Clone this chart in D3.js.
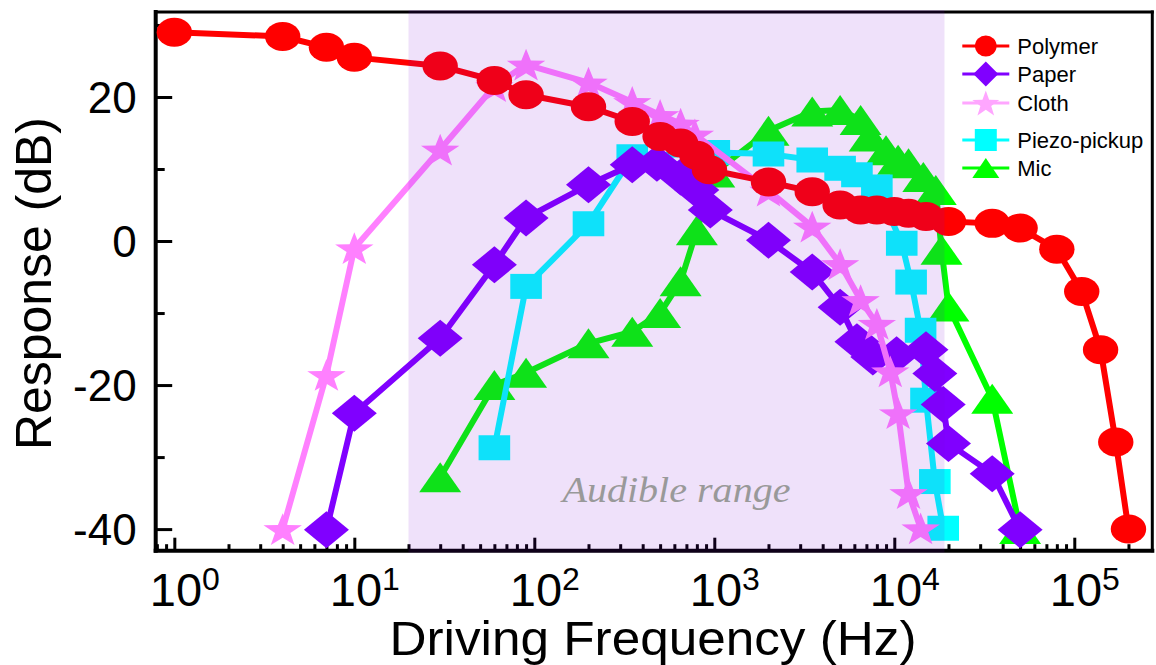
<!DOCTYPE html>
<html>
<head>
<meta charset="utf-8">
<script src="https://cdn.jsdelivr.net/npm/d3@7"></script>
<style>
  html, body { margin: 0; padding: 0; background: #fff; }
  svg { display: block; }
</style>
</head>
<body>
<svg id="chart" width="1156" height="665"></svg>
<script>
// ---- Measured frequency responses (Hz, dB) ----
const polymerFreq = [1, 4, 7, 10, 30, 60, 90, 200, 350, 500, 650, 800, 940, 2000, 3500, 5000, 6500, 8000, 10000, 12000, 15000, 20000, 35000, 50000, 80000, 110000, 140000, 170000, 200000];
const polymerResp = [29.0, 28.4, 26.9, 25.5, 24.3, 22.3, 20.3, 18.65, 16.6, 14.5, 13.6, 11.9, 9.9, 8.2, 6.85, 5.0, 4.3, 4.3, 4.1, 3.85, 3.4, 2.7, 2.45, 1.8, -1.15, -7.0, -15.1, -27.9, -40.0];

const paperFreq = [7, 10, 30, 60, 90, 200, 350, 480, 650, 800, 950, 2000, 3500, 5000, 6200, 7600, 10300, 15000, 16800, 18700, 20000, 35000, 50000];
const paperResp = [-40.1, -23.9, -13.5, -3.3, 3.2, 7.8, 10.6, 10.8, 8.9, 7.1, 4.3, 0.1, -4.3, -9.2, -14.0, -16.1, -15.8, -15.1, -18.4, -22.7, -28.1, -32.3, -40.1];

const clothFreq = [4, 7, 10, 30, 60, 90, 200, 350, 500, 650, 780, 2000, 3500, 5000, 6500, 8000, 9500, 10500, 12000, 14000];
const clothResp = [-40.0, -18.6, -1.0, 12.7, 21.5, 24.5, 22.0, 19.3, 17.5, 16.3, 14.8, 7.0, 2.0, -3.2, -8.2, -11.5, -18.1, -23.9, -35.0, -39.9];

const piezoFreq = [60, 90, 200, 350, 1000, 2000, 3500, 5000, 6200, 8000, 11000, 12400, 14000, 15000, 16800, 18700];
const piezoResp = [-28.7, -6.3, 2.4, 11.7, 12.3, 12.1, 11.25, 10.1, 9.2, 7.5, -0.3, -5.7, -12.4, -22.1, -33.4, -39.9];

const micFreq = [30, 60, 90, 200, 350, 500, 650, 800, 1000, 2000, 3500, 5000, 6500, 7300, 9000, 10500, 12000, 14500, 17000, 18300, 20000, 35000, 50000];
const micResp = [-32.8, -20.0, -18.3, -14.2, -12.6, -10.0, -5.6, 1.5, 9.5, 15.3, 18.0, 18.2, 16.8, 14.5, 12.6, 11.3, 10.8, 8.9, 7.1, -1.2, -9.1, -21.9, -40.0];

// ---- Axis ticks and annotation ----
const xMajorTicks = [1, 10, 100, 1000, 10000, 100000];
const yMajorTicks = [-40, -20, 0, 20];
const yMinorTicks = [-30, -10, 10, 30];
const audibleBand = [20, 19000];
const bandLabel = "Audible range";
const xTitle = "Driving Frequency (Hz)";
const yTitle = "Response (dB)";

// Series, in drawing order (bottom to top); legend order is separate
const series = [
  { name: "Mic",          freq: micFreq,     resp: micResp,     color: "#00ff00", legendColor: "#00ff00", shape: "triangle" },
  { name: "Piezo-pickup", freq: piezoFreq,   resp: piezoResp,   color: "#00ffff", legendColor: "#00ffff", shape: "square" },
  { name: "Paper",        freq: paperFreq,   resp: paperResp,   color: "#8000ff", legendColor: "#8000ff", shape: "diamond" },
  { name: "Cloth",        freq: clothFreq,   resp: clothResp,   color: "#ff80ff", legendColor: "#ffa6ff", shape: "star" },
  { name: "Polymer",      freq: polymerFreq, resp: polymerResp, color: "#ff0000", legendColor: "#ff0000", shape: "circle" }
];
const legendOrder = ["Polymer", "Paper", "Cloth", "Piezo-pickup", "Mic"];

// ---- Layout ----
const W = 1156, H = 665;
const M = { left: 155.7, right: 1152.3, top: 12, bottom: 550.7 };
const FONT = "'Liberation Sans', Arial, Helvetica, sans-serif";

const svg = d3.select("#chart");

const x = d3.scaleLog().domain([0.788, 271300]).range([M.left, M.right]);
const y = d3.scaleLinear().domain([-43, 31.8]).range([M.bottom, M.top]);

// Marker outlines centred on their bounding box; a = half width, b = half height
function markerPath(shape, a, b) {
  if (shape === "circle") {
    return `M${-a},0A${a},${b} 0 1,0 ${a},0A${a},${b} 0 1,0 ${-a},0Z`;
  }
  if (shape === "diamond") {
    return `M0,${-b}L${a},0L0,${b}L${-a},0Z`;
  }
  if (shape === "square") {
    return `M${-a},${-b}L${a},${-b}L${a},${b}L${-a},${b}Z`;
  }
  if (shape === "triangle") {
    return `M0,${-b}L${a},${b}L${-a},${b}Z`;
  }
  // five-pointed star, stretched to the box
  const rx = a / Math.cos(Math.PI / 10);
  const ry = 2 * b / (1 + Math.cos(Math.PI / 5));
  const dy = ry - b;
  const inner = 0.4;
  const pts = [];
  for (let i = 0; i < 10; i++) {
    const ang = -Math.PI / 2 + i * Math.PI / 5;
    const r = i % 2 === 0 ? 1 : inner;
    pts.push([rx * r * Math.cos(ang), ry * r * Math.sin(ang) + dy]);
  }
  return "M" + pts.map(p => p[0].toFixed(2) + "," + p[1].toFixed(2)).join("L") + "Z";
}

const markerSize = {
  circle:   [17.7, 14.5],
  diamond:  [22.5, 18.5],
  square:   [15.8, 12.5],
  triangle: [21, 15],
  star:     [19.2, 15.9]
};
const legendMarkerSize = {
  circle:   [10.8, 10.5],
  diamond:  [12.5, 12.5],
  square:   [11, 11],
  triangle: [13.5, 10],
  star:     [13.5, 12.5]
};

// ---- Minor x ticks: 2..9 in every decade ----
const xMinorTicks = [];
for (let e = -1; e <= 5; e++) {
  for (let m = 2; m <= 9; m++) {
    const v = m * Math.pow(10, e);
    if (v >= x.domain()[0] && v <= x.domain()[1]) xMinorTicks.push(v);
  }
}

function styleTicks(g) {
  g.select(".domain").remove();
  g.selectAll(".tick line").attr("stroke", "#000").attr("stroke-width", 3);
}

// x axis: minor then major ticks, pointing inward
svg.append("g")
  .attr("transform", `translate(0,${M.bottom})`)
  .call(d3.axisBottom(x).tickValues(xMinorTicks).tickSize(-6.5).tickFormat(""))
  .call(styleTicks);

svg.append("g")
  .attr("transform", `translate(0,${M.bottom})`)
  .call(d3.axisBottom(x).tickValues(xMajorTicks).tickSize(-13).tickFormat(d => ""))
  .call(styleTicks)
  .call(g => g.selectAll(".tick text")
    .attr("font-family", FONT)
    .attr("font-size", 47)
    .attr("fill", "#000")
    .attr("text-anchor", "start")
    .attr("x", -25)
    .attr("y", 55.3)
    .attr("dy", null)
    .each(function (d) {
      const t = d3.select(this);
      t.append("tspan").text("10");
      t.append("tspan")
        .attr("dy", -16)
        .attr("font-size", 32)
        .text(Math.round(Math.log10(d)));
    }));

// y axis
svg.append("g")
  .attr("transform", `translate(${M.left},0)`)
  .call(d3.axisLeft(y).tickValues(yMinorTicks).tickSize(-9).tickFormat(""))
  .call(styleTicks);

svg.append("g")
  .attr("transform", `translate(${M.left},0)`)
  .call(d3.axisLeft(y).tickValues(yMajorTicks).tickSize(-16.5).tickPadding(19).tickFormat(d => String(d)))
  .call(styleTicks)
  .call(g => g.selectAll(".tick text")
    .attr("font-family", FONT)
    .attr("font-size", 44)
    .attr("fill", "#000")
    .attr("dy", "0.36em"));

// Frame
const frame = svg.append("g").attr("stroke", "#000").attr("stroke-linecap", "square");
frame.append("line").attr("x1", M.left).attr("x2", M.left).attr("y1", M.top).attr("y2", M.bottom).attr("stroke-width", 4);
frame.append("line").attr("x1", M.left).attr("x2", M.right).attr("y1", M.bottom).attr("y2", M.bottom).attr("stroke-width", 4);
frame.append("line").attr("x1", M.left).attr("x2", M.right).attr("y1", M.top).attr("y2", M.top).attr("stroke-width", 3);
frame.append("line").attr("x1", M.right).attr("x2", M.right).attr("y1", M.top).attr("y2", M.bottom).attr("stroke-width", 3);

// ---- Series ----
const line = d3.line().x(d => x(d[0])).y(d => y(d[1]));
const plot = svg.append("g");
series.forEach(s => {
  const pts = s.freq.map((f, i) => [f, s.resp[i]]);
  const g = plot.append("g");
  g.append("path")
    .attr("d", line(pts))
    .attr("fill", "none")
    .attr("stroke", s.color)
    .attr("stroke-width", 6)
    .attr("stroke-linejoin", "round");
  const [a, b] = markerSize[s.shape];
  g.selectAll("path.mk")
    .data(pts)
    .join("path")
    .attr("class", "mk")
    .attr("d", markerPath(s.shape, a, b))
    .attr("transform", d => `translate(${x(d[0])},${y(d[1])})`)
    .attr("fill", s.color);
});

// ---- Audible band (translucent violet over everything inside it) ----
svg.append("rect")
  .attr("x", x(audibleBand[0]))
  .attr("width", x(audibleBand[1]) - x(audibleBand[0]))
  .attr("y", M.top - 2)
  .attr("height", M.bottom - M.top + 4)
  .attr("fill", "rgb(119,0,212)")
  .attr("fill-opacity", 0.118);

svg.append("text")
  .attr("x", (x(audibleBand[0]) + x(audibleBand[1])) / 2)
  .attr("y", M.bottom - 49)
  .attr("text-anchor", "middle")
  .attr("font-family", "'Liberation Serif', 'Times New Roman', serif")
  .attr("font-style", "italic")
  .attr("font-size", 36)
  .attr("textLength", 228)
  .attr("lengthAdjust", "spacingAndGlyphs")
  .attr("fill", "#999999")
  .text(bandLabel);

// ---- Axis titles ----
svg.append("text")
  .attr("x", (M.left + M.right) / 2 - 1)
  .attr("y", 655)
  .attr("text-anchor", "middle")
  .attr("font-family", FONT)
  .attr("font-size", 48)
  .attr("textLength", 527)
  .attr("lengthAdjust", "spacingAndGlyphs")
  .attr("fill", "#000")
  .text(xTitle);

svg.append("text")
  .attr("transform", `translate(50.7,${(117 + 450) / 2}) rotate(-90)`)
  .attr("text-anchor", "middle")
  .attr("font-family", FONT)
  .attr("font-size", 50)
  .attr("textLength", 333)
  .attr("lengthAdjust", "spacingAndGlyphs")
  .attr("fill", "#000")
  .text(yTitle);

// ---- Legend ----
const legendRows = [46, 74, 103, 140, 168];
const legend = svg.append("g");
legendOrder.forEach((name, i) => {
  const s = series.find(d => d.name === name);
  const cy = legendRows[i];
  const row = legend.append("g").attr("transform", `translate(0,${cy})`);
  row.append("line")
    .attr("x1", 962.3).attr("x2", 1009.3)
    .attr("y1", 0).attr("y2", 0)
    .attr("stroke", s.legendColor)
    .attr("stroke-width", 3);
  const [a, b] = legendMarkerSize[s.shape];
  row.append("path")
    .attr("d", markerPath(s.shape, a, b))
    .attr("transform", "translate(985.8,0)")
    .attr("fill", s.legendColor);
  row.append("text")
    .attr("x", 1017.3)
    .attr("y", 8)
    .attr("font-family", FONT)
    .attr("font-size", 22)
    .attr("fill", "#000")
    .text(s.name);
});
</script>
</body>
</html>
